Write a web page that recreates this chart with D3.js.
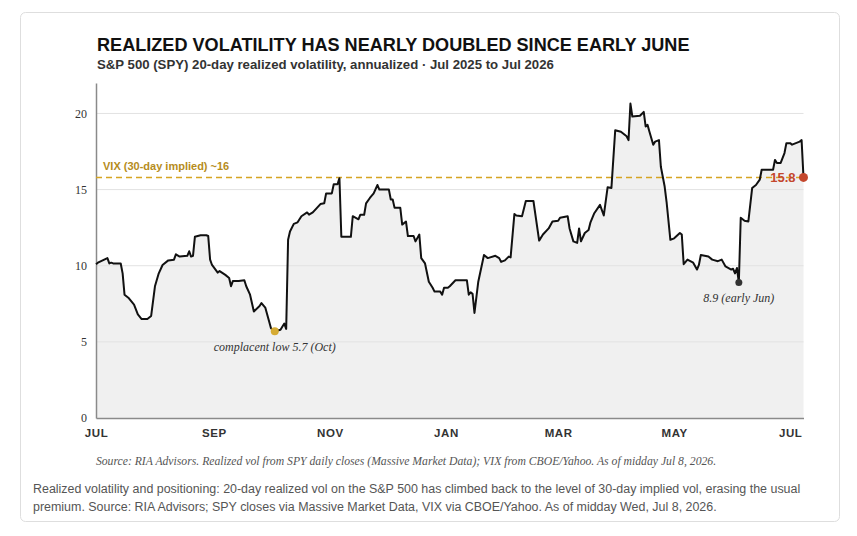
<!DOCTYPE html>
<html>
<head>
<meta charset="utf-8">
<script src="https://cdn.jsdelivr.net/npm/d3@7"></script>
<style>
  html, body { margin: 0; padding: 0; background: #fff; }
  svg { display: block; }
</style>
</head>
<body>
<div id="chart"></div>
<script>
// 20-day realized vol, SPY, Jul 2025 - Jul 2026
const dates = [
  '2025-07-01','2025-07-02','2025-07-07','2025-07-08','2025-07-09','2025-07-10','2025-07-14','2025-07-15',
  '2025-07-16','2025-07-18','2025-07-21','2025-07-23','2025-07-25','2025-07-28','2025-07-30','2025-08-01',
  '2025-08-03','2025-08-05','2025-08-08','2025-08-11','2025-08-12','2025-08-14','2025-08-18','2025-08-19',
  '2025-08-20','2025-08-21','2025-08-22','2025-08-25','2025-08-28','2025-08-29','2025-08-30','2025-08-31',
  '2025-09-03','2025-09-04','2025-09-07','2025-09-09','2025-09-10','2025-09-11','2025-09-14','2025-09-17',
  '2025-09-18','2025-09-20','2025-09-22','2025-09-25','2025-09-26','2025-09-28','2025-09-30','2025-10-01',
  '2025-10-03','2025-10-06','2025-10-08','2025-10-09','2025-10-10','2025-10-11','2025-10-13','2025-10-15',
  '2025-10-17','2025-10-20','2025-10-21','2025-10-23','2025-10-27','2025-10-29','2025-10-30','2025-11-02',
  '2025-11-03','2025-11-05','2025-11-06','2025-11-07','2025-11-12','2025-11-13','2025-11-16','2025-11-17',
  '2025-11-19','2025-11-20','2025-11-22','2025-11-24','2025-11-26','2025-11-27','2025-12-02','2025-12-03',
  '2025-12-04','2025-12-05','2025-12-08','2025-12-09','2025-12-11','2025-12-12','2025-12-15','2025-12-16',
  '2025-12-18','2025-12-19','2025-12-21','2025-12-23','2025-12-25','2025-12-26','2025-12-29','2025-12-30',
  '2025-12-31','2026-01-02','2026-01-03','2026-01-06','2026-01-12','2026-01-13','2026-01-14','2026-01-15',
  '2026-01-16','2026-01-18','2026-01-21','2026-01-23','2026-01-27','2026-01-29','2026-01-30','2026-02-01',
  '2026-02-03','2026-02-04','2026-02-06','2026-02-07','2026-02-10','2026-02-12','2026-02-16','2026-02-19',
  '2026-02-21','2026-02-24','2026-02-26','2026-03-01','2026-03-02','2026-03-06','2026-03-07','2026-03-09',
  '2026-03-11','2026-03-12','2026-03-13','2026-03-15','2026-03-17','2026-03-18','2026-03-20','2026-03-23',
  '2026-03-25','2026-03-27','2026-03-29','2026-03-31','2026-04-03','2026-04-06','2026-04-07','2026-04-08',
  '2026-04-09','2026-04-13','2026-04-15','2026-04-16','2026-04-17','2026-04-18','2026-04-20','2026-04-21',
  '2026-04-23','2026-04-24','2026-04-26','2026-04-27','2026-04-29','2026-05-01','2026-05-04','2026-05-05',
  '2026-05-06','2026-05-08','2026-05-11','2026-05-13','2026-05-14','2026-05-15','2026-05-19','2026-05-21',
  '2026-05-24','2026-05-26','2026-05-28','2026-05-31','2026-06-01','2026-06-02','2026-06-03','2026-06-04',
  '2026-06-05','2026-06-07','2026-06-09','2026-06-11','2026-06-13','2026-06-15','2026-06-16','2026-06-22',
  '2026-06-23','2026-06-24','2026-06-26','2026-06-28','2026-06-29','2026-07-01','2026-07-02','2026-07-06',
  '2026-07-07','2026-07-08'
]
const realizedVol = [
  10.1, 10.2, 10.5, 10.15, 10.2, 10.15, 10.15, 9.5,
  8.1, 7.9, 7.45, 6.8, 6.5, 6.5, 6.7, 8.65,
  9.5, 10.05, 10.35, 10.4, 10.75, 10.6, 10.65, 10.95,
  10.6, 10.65, 11.9, 12.0, 12.0, 11.95, 10.4, 10.05,
  9.55, 9.65, 9.4, 9.2, 8.65, 9.0, 9.0, 9.05,
  8.65, 8.1, 7.0, 7.35, 7.55, 7.25, 6.35, 5.9,
  5.7, 5.8, 6.2, 5.85, 11.7, 12.25, 12.75, 12.85,
  13.25, 13.5, 13.35, 13.5, 14.05, 14.1, 14.75, 14.75,
  15.35, 15.35, 15.75, 11.9, 11.9, 13.25, 13.05, 13.35,
  13.35, 14.1, 14.45, 14.75, 15.3, 15.0, 15.0, 14.35,
  14.35, 13.8, 13.8, 12.7, 12.9, 11.95, 11.95, 11.6,
  12.05, 10.5, 10.15, 8.95, 8.55, 8.3, 8.3, 8.1,
  8.55, 8.55, 8.65, 9.05, 9.05, 8.1, 8.25, 8.15,
  6.9, 8.95, 10.7, 10.5, 10.65, 10.5, 10.25, 10.35,
  10.6, 10.55, 13.4, 13.3, 13.25, 14.25, 14.25, 11.65,
  12.05, 12.45, 12.9, 12.95, 13.15, 13.25, 12.45, 11.6,
  11.5, 12.45, 11.6, 12.15, 12.35, 12.85, 13.45, 14.0,
  13.3, 15.15, 15.1, 18.9, 18.8, 18.5, 18.25, 20.65,
  19.8, 19.85, 20.1, 19.15, 19.25, 18.8, 17.95, 18.15,
  18.25, 16.5, 15.2, 14.2, 11.7, 11.8, 12.15, 12.05,
  10.1, 10.4, 10.2, 9.75, 10.05, 10.7, 10.6, 10.4,
  10.3, 10.4, 9.95, 9.75, 9.8, 9.5, 9.85, 8.9,
  13.15, 12.95, 12.9, 15.1, 15.3, 15.65, 16.3, 16.3,
  16.95, 16.75, 16.75, 17.4, 18.05, 18.05, 17.95, 18.15,
  18.25, 15.8
]
const yTicks = [0, 5, 10, 15, 20]
const vixLevel = 15.8
const vixLabel = 'VIX (30-day implied) ~16'
const lowDate = '2025-10-03'
const lowLabel = 'complacent low 5.7 (Oct)'
const junDate = '2026-06-04'
const junLabel = '8.9 (early Jun)'

const W = 857, H = 536
const margin = { left: 96, right: 53, top: 83, bottom: 118 }
const parse = d3.timeParse('%Y-%m-%d')
const data = dates.map((d, i) => ({ date: parse(d), value: realizedVol[i] }))

const svg = d3.select('#chart').append('svg')
  .attr('width', W)
  .attr('height', H)
  .style('font-family', '"Liberation Sans", Arial, sans-serif')

// card
svg.append('rect')
  .attr('x', 20.5).attr('y', 12.5)
  .attr('width', 819).attr('height', 509)
  .attr('rx', 5)
  .attr('fill', '#fff')
  .attr('stroke', '#dedede')

svg.append('text')
  .attr('x', 97).attr('y', 51)
  .attr('font-size', 18.1)
  .attr('font-weight', 'bold')
  .attr('fill', '#111')
  .text('REALIZED VOLATILITY HAS NEARLY DOUBLED SINCE EARLY JUNE')

svg.append('text')
  .attr('x', 97).attr('y', 69)
  .attr('font-size', 13.2)
  .attr('font-weight', 'bold')
  .attr('fill', '#333')
  .text('S&P 500 (SPY) 20-day realized volatility, annualized \u00b7 Jul 2025 to Jul 2026')

const x = d3.scaleTime()
  .domain(d3.extent(data, d => d.date))
  .range([margin.left, W - margin.right - 0.5])
const y = d3.scaleLinear()
  .domain([0, 22])
  .range([H - margin.bottom, margin.top])

const g = svg.append('g')

const area = d3.area()
  .x(d => x(d.date))
  .y0(y(0))
  .y1(d => y(d.value))
g.append('path')
  .datum(data)
  .attr('d', area)
  .attr('fill', '#f0f0f0')

// grid
g.selectAll('.grid').data(yTicks.filter(t => t > 0))
  .enter().append('line')
  .attr('class', 'grid')
  .attr('x1', x.range()[0]).attr('x2', x.range()[1])
  .attr('y1', d => y(d)).attr('y2', d => y(d))
  .attr('stroke', '#e2e2e2')
  .attr('stroke-width', 1)

// y axis
const yAxis = g.append('g')
  .attr('transform', `translate(${margin.left},0)`)
  .call(d3.axisLeft(y).tickValues(yTicks).tickSize(0).tickPadding(9))
yAxis.select('.domain').attr('stroke', '#8a8a8a').attr('stroke-width', 1.5)
yAxis.selectAll('text')
  .attr('font-family', '"Liberation Serif", Georgia, serif')
  .attr('font-size', 12)
  .attr('fill', '#333')

// x axis
const xAxis = g.append('g')
  .attr('transform', `translate(0,${y(0)})`)
  .call(d3.axisBottom(x)
    .ticks(d3.timeMonth.every(2))
    .tickFormat(d => d3.timeFormat('%b')(d).toUpperCase())
    .tickSize(0).tickPadding(11))
xAxis.select('.domain').attr('stroke', '#8a8a8a').attr('stroke-width', 1.5)
xAxis.selectAll('text')
  .attr('font-family', '"Liberation Sans", Arial, sans-serif')
  .attr('font-size', 11.5)
  .attr('font-weight', 'bold')
  .attr('letter-spacing', 0.6)
  .attr('fill', '#333')

// VIX reference
g.append('line')
  .attr('x1', x.range()[0]).attr('x2', x.range()[1])
  .attr('y1', y(vixLevel)).attr('y2', y(vixLevel))
  .attr('stroke', '#d6a522')
  .attr('stroke-width', 1.5)
  .attr('stroke-dasharray', '6,4')
g.append('text')
  .attr('x', margin.left + 7).attr('y', y(vixLevel) - 7)
  .attr('font-size', 11)
  .attr('font-weight', 'bold')
  .attr('fill', '#b68c1c')
  .text(vixLabel)

// realized vol line
const line = d3.line()
  .x(d => x(d.date))
  .y(d => y(d.value))
g.append('path')
  .datum(data)
  .attr('d', line)
  .attr('fill', 'none')
  .attr('stroke', '#111')
  .attr('stroke-width', 2)
  .attr('stroke-linejoin', 'round')

// annotations
const lowPt = data.find(d => d3.timeFormat('%Y-%m-%d')(d.date) === lowDate)
const junPt = data.find(d => d3.timeFormat('%Y-%m-%d')(d.date) === junDate)
const lastPt = data[data.length - 1]

g.append('circle')
  .attr('cx', x(lowPt.date)).attr('cy', y(lowPt.value))
  .attr('r', 4).attr('fill', '#d6ab33')
g.append('text')
  .attr('x', x(lowPt.date)).attr('y', y(lowPt.value) + 20)
  .attr('text-anchor', 'middle')
  .attr('font-family', '"Liberation Serif", Georgia, serif')
  .attr('font-style', 'italic')
  .attr('font-size', 12)
  .attr('fill', '#333')
  .text(lowLabel)

g.append('circle')
  .attr('cx', x(junPt.date)).attr('cy', y(junPt.value))
  .attr('r', 3.5).attr('fill', '#333')
g.append('text')
  .attr('x', x(junPt.date)).attr('y', y(junPt.value) + 20)
  .attr('text-anchor', 'middle')
  .attr('font-family', '"Liberation Serif", Georgia, serif')
  .attr('font-style', 'italic')
  .attr('font-size', 12)
  .attr('fill', '#333')
  .text(junLabel)

g.append('circle')
  .attr('cx', x(lastPt.date)).attr('cy', y(lastPt.value))
  .attr('r', 4.5).attr('fill', '#c4472d')
g.append('text')
  .attr('x', x(lastPt.date) - 8).attr('y', y(lastPt.value))
  .attr('dy', '0.35em')
  .attr('text-anchor', 'end')
  .attr('font-size', 13)
  .attr('font-weight', 'bold')
  .attr('fill', '#c4472d')
  .text(lastPt.value.toFixed(1))

// source + caption
svg.append('text')
  .attr('x', 406).attr('y', 465)
  .attr('text-anchor', 'middle')
  .attr('font-family', '"Liberation Serif", Georgia, serif')
  .attr('font-style', 'italic')
  .attr('font-size', 11.7)
  .attr('fill', '#555')
  .text('Source: RIA Advisors. Realized vol from SPY daily closes (Massive Market Data); VIX from CBOE/Yahoo. As of midday Jul 8, 2026.')

const caption = [
  'Realized volatility and positioning: 20-day realized vol on the S&P 500 has climbed back to the level of 30-day implied vol, erasing the usual',
  'premium. Source: RIA Advisors; SPY closes via Massive Market Data, VIX via CBOE/Yahoo. As of midday Wed, Jul 8, 2026.'
]
svg.selectAll('.caption').data(caption)
  .enter().append('text')
  .attr('class', 'caption')
  .attr('x', 33)
  .attr('y', (d, i) => 493 + i * 18)
  .attr('font-size', 12.45)
  .attr('fill', '#555')
  .text(d => d)
</script>
</body>
</html>
